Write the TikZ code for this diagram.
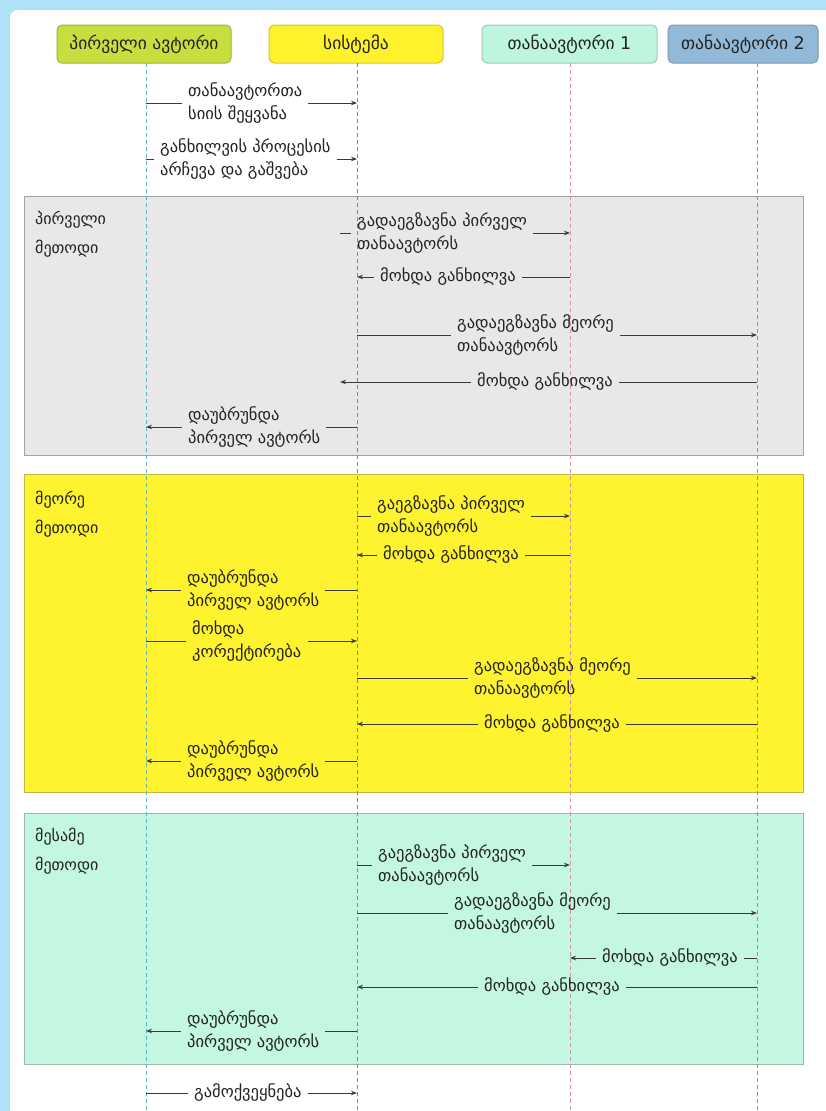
\documentclass[tikz,border=0pt]{standalone}
\usepackage{fontspec}
\setmainfont{DejaVu Sans}
\usetikzlibrary{arrows.meta}
\definecolor{framecol}{HTML}{AEE3F7}
\definecolor{hAfill}{HTML}{C8DE3E}\definecolor{hAdraw}{HTML}{A0B43A}
\definecolor{hBfill}{HTML}{FFF22C}\definecolor{hBdraw}{HTML}{D6C43A}
\definecolor{hCfill}{HTML}{BDF5DF}\definecolor{hCdraw}{HTML}{A2C8B8}
\definecolor{hDfill}{HTML}{93B9D8}\definecolor{hDdraw}{HTML}{7E98AE}
\definecolor{secgrey}{HTML}{E8E8E8}\definecolor{secgreyd}{HTML}{A4A4A4}
\definecolor{secyel}{HTML}{FFF22E}\definecolor{secyeld}{HTML}{C2B848}
\definecolor{secmint}{HTML}{C3F7E1}\definecolor{secmintd}{HTML}{9DB8AC}
\definecolor{llA}{HTML}{5BB8BE}\definecolor{llB}{HTML}{A070B4}
\definecolor{llC}{HTML}{D98FA8}\definecolor{llD}{HTML}{5FAAA2}
\definecolor{txt}{HTML}{222222}\definecolor{arr}{HTML}{3A3A3A}
\newcommand\msg[6]{%
  \coordinate (#1t) at (#3,#2);
  \coordinate (#1h) at (#4,#2);
  \node[lbl] (#1) at (#5,#2) {#6};
  \ifdim#3pt<#4pt
    \draw[msgline] (#1t) -- (#1.west);
    \draw[msgline,msgtip] (#1.east) -- (#1h);
  \else
    \draw[msgline] (#1t) -- (#1.east);
    \draw[msgline,msgtip] (#1.west) -- (#1h);
  \fi}
\begin{document}
\begin{tikzpicture}[x=1pt,y=-1pt,
  font=\fontsize{16.5}{23}\selectfont,
  hdr/.style={rounded corners=5pt, line width=1pt, minimum height=38pt, inner sep=0pt, text=txt, font=\fontsize{17.5}{21}\selectfont},
  sec/.style={line width=1pt},
  lifeline/.style={dash pattern=on 4pt off 3pt, line width=0.8pt},
  msgline/.style={draw=arr, line width=1pt},
  msgtip/.style={-{Stealth[length=6pt,width=4.5pt]}},
  lbl/.style={align=left, anchor=west, inner xsep=6pt, inner ysep=0pt, xshift=-6pt, text=txt},
  seclbl/.style={align=left, anchor=north west, inner sep=0pt, text=txt, font=\fontsize{16}{29}\selectfont}]
\useasboundingbox (0,0) rectangle (826,1111);
\clip (0,0) rectangle (826,1111);
\fill[framecol] (0,0) rectangle (826,1111);
\fill[white, rounded corners=8pt] (10,10) rectangle (850,1140);
% sections
\filldraw[sec, fill=secgrey, draw=secgreyd] (24,196) rectangle (803,455);
\filldraw[sec, fill=secyel, draw=secyeld] (24,474) rectangle (803,792);
\filldraw[sec, fill=secmint, draw=secmintd] (24,813) rectangle (803,1064);
\node[seclbl] (s1) at (35,211) {პირველი\\მეთოდი};
\node[seclbl] (s2) at (35,491) {მეორე\\მეთოდი};
\node[seclbl] (s3) at (35,828) {მესამე\\მეთოდი};
% headers
\node[hdr, fill=hAfill, draw=hAdraw, minimum width=174pt] (hA) at (144,44) {პირველი ავტორი};
\node[hdr, fill=hBfill, draw=hBdraw, minimum width=174pt] (hB) at (356,44) {სისტემა};
\node[hdr, fill=hCfill, draw=hCdraw, minimum width=175pt] (hC) at (569.5,44) {თანაავტორი 1};
\node[hdr, fill=hDfill, draw=hDdraw, minimum width=150pt] (hD) at (743,44) {თანაავტორი 2};
% lifelines
\coordinate (lA0) at (146,63); \coordinate (lA1) at (146,1111);
\coordinate (lB0) at (357,63); \coordinate (lB1) at (357,1111);
\coordinate (lC0) at (570,63); \coordinate (lC1) at (570,1111);
\coordinate (lD0) at (757,63); \coordinate (lD1) at (757,1111);
\draw[lifeline, llA] (lA0) -- (lA1);
\draw[lifeline, llB] (lB0) -- (lB1);
\draw[lifeline, llC] (lC0) -- (lC1);
\draw[lifeline, llD] (lD0) -- (lD1);
% messages (top)
\msg{m1}{103}{146}{357}{188}{თანაავტორთა\\სიის შეყვანა}
\msg{m2}{159}{146}{357}{160}{განხილვის პროცესის\\არჩევა და გაშვება}
% first method
\msg{g1}{233}{340}{570}{357}{გადაეგზავნა პირველ\\თანაავტორს}
\msg{g2}{277}{570}{357}{380}{მოხდა განხილვა}
\msg{g3}{335}{357}{757}{457}{გადაეგზავნა მეორე\\თანაავტორს}
\msg{g4}{382}{757}{340}{477}{მოხდა განხილვა}
\msg{g5}{427}{357}{146}{188}{დაუბრუნდა\\პირველ ავტორს}
% second method
\msg{y1}{516}{357}{570}{377}{გაეგზავნა პირველ\\თანაავტორს}
\msg{y2}{555}{570}{357}{383}{მოხდა განხილვა}
\msg{y3}{590}{357}{146}{187}{დაუბრუნდა\\პირველ ავტორს}
\msg{y4}{641}{146}{357}{192}{მოხდა\\კორექტირება}
\msg{y5}{678}{357}{757}{474}{გადაეგზავნა მეორე\\თანაავტორს}
\msg{y6}{724}{757}{357}{484}{მოხდა განხილვა}
\msg{y7}{761}{357}{146}{187}{დაუბრუნდა\\პირველ ავტორს}
% third method
\msg{t1}{865}{357}{570}{378}{გაეგზავნა პირველ\\თანაავტორს}
\msg{t2}{913}{357}{757}{454}{გადაეგზავნა მეორე\\თანაავტორს}
\msg{t3}{958}{757}{570}{602}{მოხდა განხილვა}
\msg{t4}{987}{757}{357}{484}{მოხდა განხილვა}
\msg{t5}{1031}{357}{146}{187}{დაუბრუნდა\\პირველ ავტორს}
% publication
\msg{b1}{1093}{146}{357}{194}{გამოქვეყნება}
\end{tikzpicture}
\end{document}
